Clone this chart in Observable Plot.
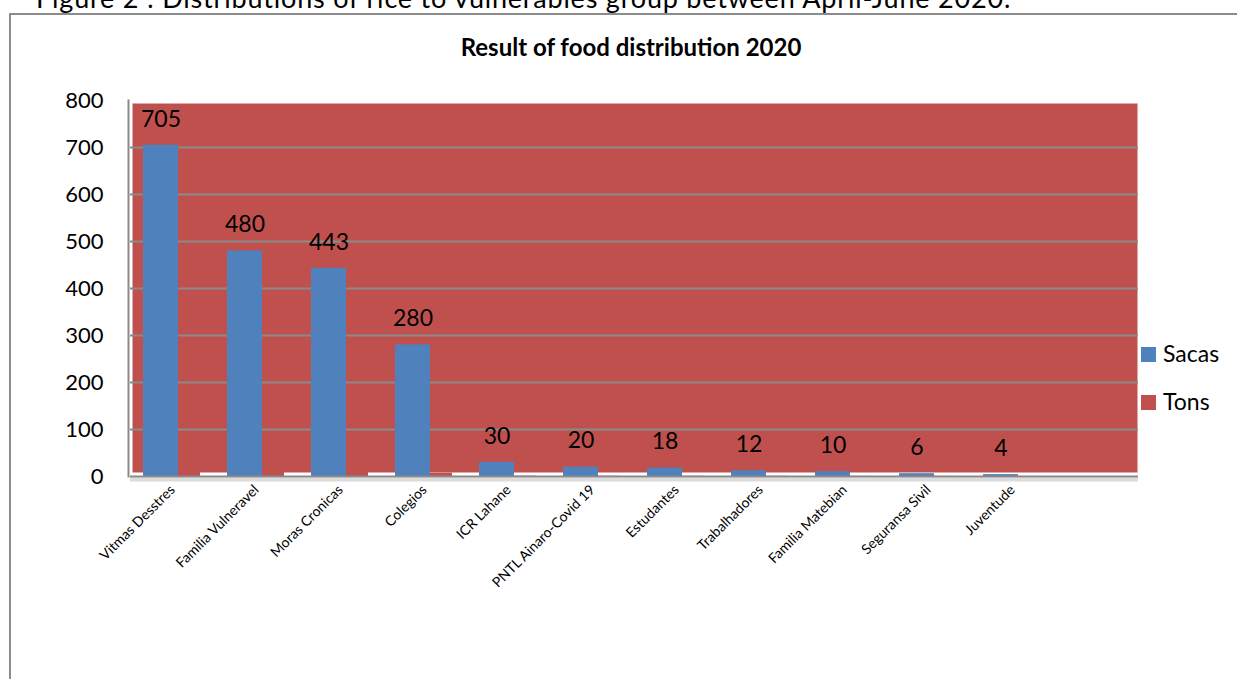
<!DOCTYPE html>
<html>
<head>
<meta charset="utf-8">
<script src="https://cdn.jsdelivr.net/npm/d3@7"></script>
<script src="https://cdn.jsdelivr.net/npm/@observablehq/plot@0.6"></script>
<style>
  html, body { margin: 0; padding: 0; background: #fff; overflow: hidden; }
  body { width: 1237px; height: 679px; position: relative; font-family: Lato, "Open Sans", sans-serif; }
  #box { position: absolute; left: 9px; top: 13px; width: 1300px; height: 700px; border: 2px solid #8c8c8c; box-sizing: border-box; }
  #caption { position: absolute; left: 36px; top: -16px; font-size: 27px; line-height: 1; letter-spacing: 0.8px; color: #000; white-space: nowrap; }
  #title { position: absolute; left: 0; width: 1262px; top: 33px; text-align: center; font-size: 24px; line-height: 1.2; font-weight: bold; color: #000; }
  #chart { position: absolute; left: 0; top: 0; }
  .leg { position: absolute; left: 1141px; font-size: 23px; color: #000; white-space: nowrap; }
  .leg span.sw { display: inline-block; width: 15px; height: 15px; vertical-align: middle; margin-right: 7px; position: relative; top: -2px; }
</style>
</head>
<body>
<div id="box"></div>
<div id="caption">Figure 2 : Distributions of rice to vulnerables group between April-June 2020.</div>
<div id="title">Result of food distribution 2020</div>
<div id="chart"></div>
<div class="leg" style="top:339px"><span class="sw" style="background:#4F81BD"></span>Sacas</div>
<div class="leg" style="top:387px"><span class="sw" style="background:#C0504D"></span>Tons</div>
<script>
const categories = ["Vitmas Desstres","Familia Vulneravel","Moras Cronicas","Colegios","ICR Lahane","PNTL Ainaro-Covid 19","Estudantes","Trabalhadores","Familia Matebian","Seguransa Sivil","Juventude"];
const sacas = [705, 480, 443, 280, 30, 20, 18, 12, 10, 6, 4];
const tons = [17.6, 12, 11.1, 7, 0.75, 0.5, 0.45, 0.3, 0.25, 0.15, 0.1];
const yTicks = [0, 100, 200, 300, 400, 500, 600, 700, 800];
const gridTicks = [100, 200, 300, 400, 500, 600, 700];
const emptySlot = " ";

const data = categories.map((c, i) => ({category: c, sacas: sacas[i], tons: tons[i]}));
const domain = [...categories, emptySlot];

const chart = Plot.plot({
  width: 1237,
  height: 679,
  marginLeft: 130,
  marginRight: 99,
  marginTop: 100,
  marginBottom: 203,
  style: {background: "transparent", fontFamily: "Lato, 'Open Sans', sans-serif"},
  x: {domain, padding: 0, label: null},
  y: {domain: [0, 800], label: null},
  marks: [
    Plot.frame({fill: "#C0504D", insetTop: 3, insetBottom: 4, insetLeft: 2, insetRight: 1}),
    Plot.ruleY(gridTicks, {stroke: "#8a8a8a", strokeWidth: 2}),
    Plot.ruleY([0], {stroke: "#dcdcdc", strokeWidth: 4, dy: 3}),
    Plot.barY(data, {x: "category", y: "tons", fill: "#C0504D", insetLeft: 34, insetRight: 14}),
    Plot.barY(data, {x: "category", y: "sacas", fill: "#4F81BD", insetLeft: 13, insetRight: 36}),
    Plot.ruleY([0], {stroke: "#8a8a8a", strokeWidth: 2}),
    Plot.frame({anchor: "left", stroke: "#8a8a8a", strokeWidth: 2, dx: -2}),
    Plot.text(data, {x: "category", y: "sacas", text: d => String(d.sacas), dx: -11.5, dy: -26, fontSize: 23, fill: "#000"}),
    Plot.axisY({ticks: yTicks, tickSize: 0, tickPadding: 27, fontSize: 22, tickFormat: d => String(d), color: "#000"}),
    Plot.axisX({tickSize: 0, tickPadding: 11, tickRotate: -45, fontSize: 14, dx: 0, color: "#000"})
  ]
});
document.getElementById("chart").appendChild(chart);
</script>
</body>
</html>
